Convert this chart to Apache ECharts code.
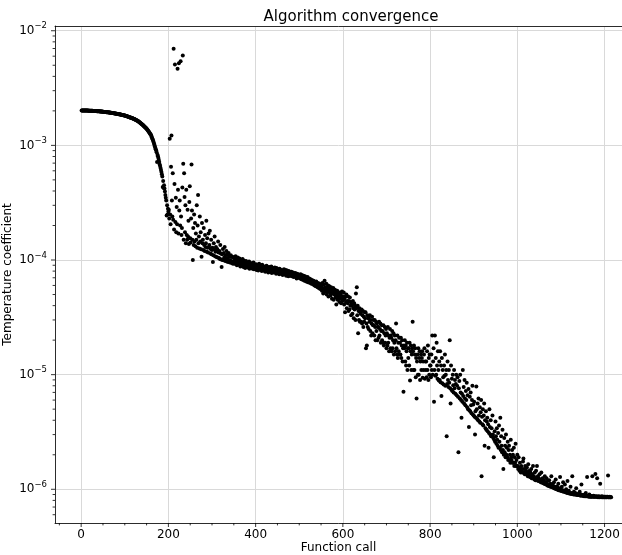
<!DOCTYPE html>
<html lang="en">
<head>
<meta charset="UTF-8">
<title>Algorithm convergence</title>
<script src="https://cdn.jsdelivr.net/npm/echarts@6/dist/echarts.min.js"></script>
<style>
  html, body { margin: 0; padding: 0; background: #fff; }
  #main { width: 622px; height: 555px; }
</style>
</head>
<body>
<div id="main"></div>
<script type="text/javascript">
// temperature coefficient per function call, in units of 1e-6 (call number = position + 1)
var UNIT = 1e-6;

// calls 1-170: smooth warm-up curve
var warmup = [
  2020,2020,2015,2020,2015,2015,2015,2015,2010,2015,
  2010,2010,2010,2010,2010,2005,2010,2005,2005,2005,
  2005,2000,2000,2000,2000,2000,1995,1995,1995,1995,
  1995,1990,1990,1990,1990,1985,1985,1985,1985,1980,
  1980,1980,1975,1975,1975,1970,1970,1970,1965,1965,
  1965,1960,1960,1960,1955,1955,1955,1950,1950,1950,
  1945,1945,1940,1940,1935,1935,1930,1930,1925,1920,
  1920,1915,1915,1910,1905,1905,1900,1900,1895,1890,
  1890,1885,1880,1880,1875,1870,1870,1865,1860,1855,
  1855,1850,1845,1845,1840,1835,1830,1830,1825,1820,
  1815,1810,1805,1800,1795,1790,1785,1775,1770,1765,
  1760,1755,1750,1745,1740,1735,1730,1720,1715,1710,
  1700,1695,1685,1680,1670,1660,1655,1645,1640,1630,
  1620,1610,1600,1590,1575,1565,1555,1545,1530,1520,
  1510,1495,1485,1470,1460,1450,1435,1425,1410,1400,
  1385,1370,1350,1335,1315,1300,1285,1265,1250,1230,
  1205,1180,1150,1125,1100,1070,1040,1010,980,950
];

// calls 171-350: steep drop, scattered upper branch and a few outliers
var dropPhase = [
  925,900,870,716,830,805,775,745,715,680,
  660,635,610,585,560,535,433,490,425,450,
  420,395,370,350,330,245,300,250,280,265,
  275,230,1140,250,205,650,1220,330,240,570,
  225,6950,185,460,5080,215,350,175,290,205,
  4660,410,170,5200,270,330,200,5420,240,165,
  190,430,6080,690,150,570,355,175,300,140,
  410,165,150,275,160,220,138,320,440,155,
  142,230,680,270,150,100,190,135,250,145,
  210,132,170,150,300,128,200,370,140,160,
  126,240,145,175,124,107,210,140,150,122,
  190,135,120,165,130,140,220,118,155,128,
  116,170,130,135,180,114,125,150,112,122,
  128,96,110,140,124,160,108,118,130,106,
  120,125,105,145,116,104,120,102,135,114,
  101,87,112,100,125,100,115,105,130,98,
  110,103,120,97,112,104,96,115,100,108,
  95,99,110,106,94,97,107,93,96,104
];

// calls 351-550: plateau band
var plateau = [
  104,93,99,108,95,101,90,97,105,94,
  98,91,103,95,88,100,93,97,89,102,
  94,87,99,92,96,85,93,98,88,91,
  95,86,92,89,97,84,91,88,94,85,
  90,93,84,88,95,83,89,91,85,87,
  92,82,88,85,90,81,87,93,84,86,
  83,89,85,80,91,84,87,81,86,88,
  85,79,86,83,89,80,84,87,78,85,
  82,87,79,84,81,88,77,83,85,80,
  84,78,82,86,79,83,76,85,80,82,
  77,83,80,75,84,79,81,76,82,78,
  80,74,81,78,83,75,79,77,82,73,
  78,81,74,77,72,80,76,79,73,77,
  75,79,72,77,74,78,71,76,73,75,
  77,71,74,69,76,72,75,70,74,71,
  73,69,75,71,68,74,70,72,67,73,
  70,66,72,68,71,65,69,67,71,64,
  68,64,69,66,63,68,65,62,67,64,
  65,61,66,63,60,64,62,59,65,61,
  62,58,63,60,57,62,59,56,61,58
];

// calls 551-800: decay, band widening
var decay = [
  60,54,63,57,51,61,56,66,53,58,
  55,62,50,57,53,60,48,56,59,52,
  54,49,58,51,46,55,52,57,45,53,
  50,55,47,52,41,49,54,45,51,47,
  48,43,52,46,50,42,47,53,44,48,
  45,52,41,46,35,48,43,50,38,44,
  42,48,36,44,37,47,40,43,33,41,
  40,34,44,38,31,42,37,40,30,51,
  38,58,33,40,23,36,30,38,29,35,
  34,29,37,28,33,36,26,32,29,35,
  31,35,17,28,18,33,26,31,25,32,
  29,33,24,30,22,28,32,23,27,30,
  27,22,30,26,20,29,24,28,20,26,
  26,21,29,22,25,28,19,24,27,20,
  24,19,27,18,23,26,19,22,25,17,
  23,18,26,19,22,16,21,25,17,22,
  21,16,24,17,20,23,15,19,22,16,
  20,28,17,15,22,14,19,16,21,15,
  19,15,21,14,18,20,13,17,7.1,18,
  17,20,13,18,12,16,19,11,17,14,
  17,12,19,8.9,16,18,11,15,17,29,
  16,11,18,11,15,17,9.5,14,6.2,13,
  15,10,17,10,14,16,9.0,13,15,11,
  14,16,9.4,13,11,15,17,9.2,13,11,
  13,9.5,16,11,18,9.0,14,10,15,12
];

// calls 801-1000: wide scatter
var decayLate = [
  12,9.5,15,11,22,10,13,17,5.8,11,
  22,9.8,14,10,19,12,9.2,16,11,8.9,
  13,9.0,16,8.6,12,6.5,14,8.4,11,9.5,
  8.2,12,9.8,15,8.0,10,11,2.9,8.3,13,
  9.0,7.8,11,8.5,20,7.6,5.6,12,7.4,9.2,
  7.2,10,8.1,7.0,11,7.6,9.0,6.8,8.3,10,
  6.6,8.0,9.5,6.4,2.1,7.6,8.8,6.2,10,7.0,
  6.0,4.2,6.8,5.8,11,6.5,7.8,5.6,9.0,6.2,
  5.4,7.2,6.0,8.5,5.2,6.6,5.0,7.5,3.5,4.9,
  6.4,4.8,7.0,5.4,4.6,6.0,8.0,4.5,5.5,4.4,
  5.8,4.3,3.0,4.8,4.2,7.9,5.0,4.1,5.6,4.0,
  6.2,4.4,3.9,5.2,3.8,4.7,6.0,1.3,4.3,3.7,
  5.0,3.6,4.4,5.6,2.4,4.0,3.4,4.8,3.3,3.9,
  4.2,3.2,3.7,2.3,3.1,5.0,3.5,3.0,4.0,2.9,
  3.4,2.9,4.4,3.0,2.8,1.9,2.7,3.2,2.6,3.9,
  2.9,2.5,3.4,2.7,2.4,3.1,2.3,3.6,2.6,2.3,
  4.2,2.2,2.9,2.4,2.1,3.3,2.2,1.5,2.0,2.8,
  2.1,2.4,1.9,3.0,2.0,2.3,1.9,2.6,1.8,2.2,
  2.4,1.8,2.0,1.7,2.7,1.9,1.8,2.2,1.7,2.0,
  1.7,2.3,1.6,1.9,1.7,2.5,1.6,1.8,1.6,2.0
];

// calls 1001-1215: converged tail
var tail = [
  1.6,1.5,1.9,1.55,1.45,1.7,1.5,1.4,1.6,1.45,
  1.5,1.4,1.75,1.86,1.4,1.5,1.35,1.6,1.4,1.45,
  1.35,1.55,1.4,1.3,1.65,1.35,1.3,1.45,1.28,1.4,
  1.3,1.5,1.25,1.35,1.28,1.6,1.25,1.3,1.22,1.4,
  1.25,1.2,1.45,1.22,1.6,1.2,1.3,1.18,1.25,1.2,
  1.35,1.17,1.22,1.15,1.4,1.18,1.14,1.25,1.15,1.13,
  1.2,1.12,1.3,1.11,1.15,1.1,1.25,1.1,1.08,1.18,
  1.09,1.07,1.2,1.08,1.06,1.12,1.05,1.3,1.06,1.04,
  1.1,1.04,1.03,1.15,1.02,1.05,1.01,1.22,1.02,1.0,
  1.06,1.0,0.99,1.12,0.98,1.02,0.99,1.28,0.97,1.0,
  0.97,1.05,0.96,0.98,1.15,0.95,0.97,0.96,1.1,0.94,
  0.95,1.0,0.94,0.93,1.18,0.94,0.93,0.97,0.92,0.93,
  0.92,1.05,0.92,0.91,0.93,1.3,0.91,0.92,0.9,0.95,
  0.91,0.9,0.93,0.9,1.02,0.9,0.89,0.91,0.9,0.89,
  0.9,0.89,0.95,0.89,0.88,0.9,1.1,0.89,0.88,0.89,
  0.88,0.89,0.87,0.9,0.88,0.87,0.93,0.88,0.87,1.28,
  0.87,0.88,0.87,0.86,0.9,0.87,0.86,0.88,0.86,0.87,
  0.86,1.3,0.87,0.86,0.88,0.86,0.86,0.87,1.36,0.86,
  0.86,0.87,1.25,0.86,0.85,0.86,0.87,0.85,0.86,1.12,
  0.86,0.85,0.86,0.87,0.85,0.86,0.85,0.86,0.85,0.86,
  0.85,0.86,0.85,0.85,0.86,0.85,0.86,1.32,0.85,0.85,
  0.85,0.86,0.85,0.85,0.85
];

var xTicks = [0, 200, 400, 600, 800, 1000, 1200];

var X_MIN = -60, X_MAX = 1240;
var Y_MIN = 5.08e-7, Y_MAX = 1.10e-2;
var FONT = 'DejaVu Sans';

var tempCoef = [].concat(warmup, dropPhase, plateau, decay, decayLate, tail);
var points = tempCoef.map(function (v, i) { return [i + 1, v * UNIT]; });

// tick marks (matplotlib style: outward, major + minor)
var xTickData = [];
for (var t = -50; t <= X_MAX; t += 50) {
    xTickData.push([t, Y_MIN, t % 200 === 0 ? 4 : 2.4]);
}
var yTickData = [];
for (var e = -7; e <= -2; e++) {
    for (var m = 1; m <= 9; m++) {
        var v = m * Math.pow(10, e);
        if (v >= Y_MIN && v <= Y_MAX) yTickData.push([X_MIN, v, m === 1 ? 4 : 2.4]);
    }
}

function supLabel(v) {
    var lg = Math.log10(v);
    var ex = Math.round(lg);
    if (Math.abs(lg - ex) > 1e-6) return '';
    return '{b|10}{s|' + (ex < 0 ? '\u2212' + (-ex) : ex) + '}';
}

var myChart = echarts.init(document.getElementById('main'));
var option = {
    animation: false,
    textStyle: { fontFamily: FONT },
    title: {
        text: 'Algorithm convergence',
        left: 346,
        top: 5,
        textAlign: 'center',
        textStyle: { fontFamily: FONT, fontSize: 15, fontWeight: 'normal', color: '#000' }
    },
    grid: { left: 55, right: 0, top: 26, bottom: 32, containLabel: false, outerBoundsMode: 'none' },
    xAxis: [{
        type: 'value',
        min: X_MIN,
        max: X_MAX,
        splitNumber: 6,
        name: 'Function call',
        nameLocation: 'middle',
        nameGap: 19,
        nameMoveOverlap: false,
        nameTextStyle: { fontFamily: FONT, fontSize: 12, color: '#000' },
        axisLine: { onZero: false, lineStyle: { color: '#000', width: 0.8 } },
        axisTick: { show: false },
        axisLabel: {
            fontFamily: FONT, fontSize: 12, color: '#000', margin: 6,
            showMinLabel: false, showMaxLabel: false,
            formatter: function (v) { return xTicks.indexOf(v) >= 0 ? String(v) : ''; }
        },
        splitLine: { show: true, lineStyle: { color: '#d9d9d9', width: 1 } }
    }, {
        type: 'value',
        position: 'top',
        min: X_MIN,
        max: X_MAX,
        axisLine: { show: true, onZero: false, lineStyle: { color: '#000', width: 0.8 } },
        axisTick: { show: false },
        axisLabel: { show: false },
        splitLine: { show: false }
    }],
    yAxis: {
        type: 'log',
        logBase: 10,
        min: Y_MIN,
        max: Y_MAX,
        name: 'Temperature coefficient',
        nameLocation: 'middle',
        nameGap: 41,
        nameMoveOverlap: false,
        nameTextStyle: { fontFamily: FONT, fontSize: 12, color: '#000' },
        axisLine: { show: true, onZero: false, lineStyle: { color: '#000', width: 0.8 } },
        axisTick: { show: false },
        axisLabel: {
            margin: 8,
            showMinLabel: false, showMaxLabel: false,
            formatter: supLabel,
            rich: {
                b: { fontFamily: FONT, fontSize: 12, color: '#000', lineHeight: 18 },
                s: { fontFamily: FONT, fontSize: 8.5, color: '#000', lineHeight: 10, verticalAlign: 'top' }
            }
        },
        splitLine: { show: true, lineStyle: { color: '#d9d9d9', width: 1 } }
    },
    series: [{
        name: 'Temperature coefficient',
        type: 'scatter',
        data: points,
        symbol: 'circle',
        symbolSize: 4,
        itemStyle: { color: '#000', opacity: 1 },
        silent: true
    }, {
        type: 'custom',
        silent: true,
        clip: false,
        data: xTickData,
        encode: { x: 0, y: 1 },
        renderItem: function (params, api) {
            var p = api.coord([api.value(0), api.value(1)]);
            return { type: 'line', shape: { x1: p[0], y1: p[1], x2: p[0], y2: p[1] + api.value(2) },
                     style: { stroke: '#000', lineWidth: 0.8 } };
        }
    }, {
        type: 'custom',
        silent: true,
        clip: false,
        data: yTickData,
        encode: { x: 0, y: 1 },
        renderItem: function (params, api) {
            var p = api.coord([api.value(0), api.value(1)]);
            return { type: 'line', shape: { x1: p[0], y1: p[1], x2: p[0] - api.value(2), y2: p[1] },
                     style: { stroke: '#000', lineWidth: 0.8 } };
        }
    }]
};
myChart.setOption(option);
</script>
</body>
</html>
